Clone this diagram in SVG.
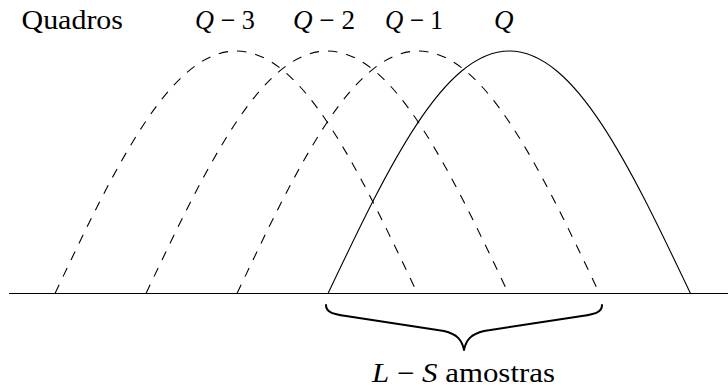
<svg xmlns="http://www.w3.org/2000/svg" width="728" height="391" viewBox="0 0 728 391">
<style>
.lbl{font-family:'Liberation Serif','Times New Roman',serif;font-size:27px;fill:#000}
.arch{fill:none;stroke:#000;stroke-width:1.1}
.dash{stroke-dasharray:9.5 9}
.axis{fill:none;stroke:#000;stroke-width:1.1}
.brace{fill:none;stroke:#000;stroke-width:2;stroke-linejoin:round;stroke-linecap:round}
</style>
<rect width="728" height="391" fill="#fff"/>
<g id="label-quadros"><text class="lbl" x="21.5" y="28.5" textLength="101.5" lengthAdjust="spacingAndGlyphs">Quadros</text></g>
<g id="label-q3"><text class="lbl" x="195" y="28.5" textLength="60" lengthAdjust="spacingAndGlyphs"><tspan font-style="italic">Q</tspan> − 3</text></g>
<g id="label-q2"><text class="lbl" x="293" y="28.5" textLength="62" lengthAdjust="spacingAndGlyphs"><tspan font-style="italic">Q</tspan> − 2</text></g>
<g id="label-q1"><text class="lbl" x="385" y="28.5" textLength="58" lengthAdjust="spacingAndGlyphs"><tspan font-style="italic">Q</tspan> − 1</text></g>
<g id="label-q"><text class="lbl" x="494" y="28.5" font-style="italic">Q</text></g>
<g id="connectors">
<line class="axis" x1="9" y1="293.5" x2="728" y2="293.5"/>
</g>
<g id="frame-q3"><path class="arch dash" d="M55,293.5 C115.4,166.5 170.4,51 236.25,51 C302.1,51 357.1,166.5 417.5,293.5"/></g>
<g id="frame-q2"><path class="arch dash" d="M146,293.5 C206.4,166.5 261.4,51 327.25,51 C393.1,51 448.1,166.5 508.5,293.5"/></g>
<g id="frame-q1"><path class="arch dash" d="M237,293.5 C297.4,166.5 352.4,51 418.25,51 C484.1,51 539.1,166.5 599.5,293.5"/></g>
<g id="frame-q"><path class="arch" d="M328,293.5 C388.4,166.5 443.4,51 509.25,51 C575.1,51 630.1,166.5 690.5,293.5"/></g>
<g id="brace">
<path class="brace" d="M326,305 C326,312 332,314 346,316 L444,331 C457,334 462,340 464,350 C466,340 471,334 484,331 L582,316 C596,314 602,312 602,305"/>
<text class="lbl" x="372" y="381.5" textLength="183" lengthAdjust="spacingAndGlyphs"><tspan font-style="italic">L</tspan> − <tspan font-style="italic">S</tspan> amostras</text>
</g>
</svg>
